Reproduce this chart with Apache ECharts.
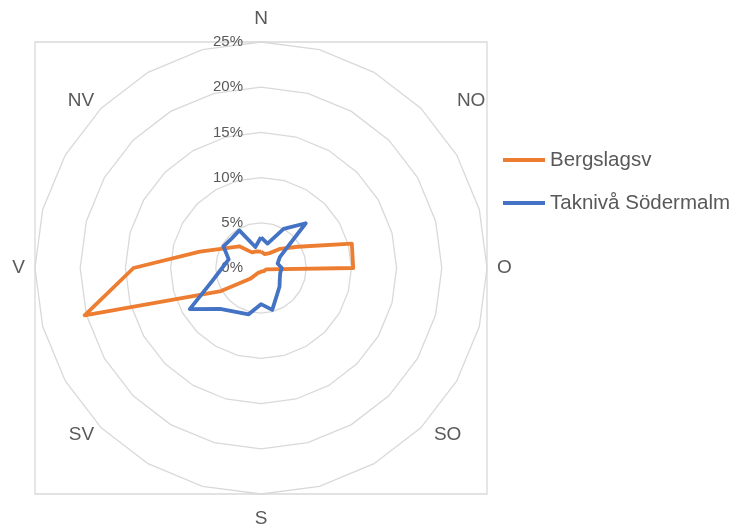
<!DOCTYPE html>
<html>
<head>
<meta charset="utf-8">
<script src="https://cdn.jsdelivr.net/npm/echarts@6/dist/echarts.min.js"></script>
<style>
  html, body { margin: 0; padding: 0; background: #fff; }
  #chart { width: 741px; height: 526px; }
</style>
</head>
<body>
<div id="chart"></div>
<script>
// Wind directions, clockwise from north in 15° steps (only the 8 main ones are labelled)
const directions = ['N', '', '', 'NO', '', '', 'O', '', '', 'SO', '', '', 'S', '', '', 'SV', '', '', 'V', '', '', 'NV', '', ''];

// Share of time per direction (%), clockwise from north
const bergslagsv = [1.8, 1.6, 1.9, 3.0, 4.7, 10.4, 10.2, 0.6, 0.5, 0.5, 0.4, 0.4,
                    0.4, 0.5, 0.6, 1.7, 5.1, 20.2, 14.1, 7.0, 4.4, 3.4, 2.0, 1.9];
const taknivaSodermalm = [3.4, 2.8, 5.0, 7.0, 2.4, 1.9, 2.3, 2.2, 2.4, 2.9, 3.5, 4.8,
                          4.0, 5.3, 5.6, 6.4, 9.1, 5.6, 4.3, 3.7, 4.8, 4.6, 4.8, 2.4];

const seriesNames = ['Bergslagsv', 'Taknivå Södermalm'];
const seriesColors = ['#ED7D31', '#4472C4'];

// Radial scale
const scaleMax = 25;
const scaleStep = 5;

// ECharts radar runs counter-clockwise; keep north first and reverse the rest
function toRadarOrder(arr) {
  return [arr[0]].concat(arr.slice(1).reverse());
}

const FONT = 'Liberation Sans';
const TEXT = '#595959';
const GRID_LINE = '#D9D9D9';
const CX = 261, CY = 268, R = 226;
const NAME_SIZE = 19;

// Small per-label nudges for the compass names
const nameStyles = {
  N:  { padding: [0, 0, 4, 0] },
  S:  { padding: [5, 0, 0, 0] },
  NO: { padding: [0, 0, 0, 29] },
  SO: { padding: [0, 0, 0, 6] }
};
const richNames = {};
Object.keys(nameStyles).forEach(k => {
  richNames[k] = Object.assign({ color: TEXT, fontSize: NAME_SIZE, fontFamily: FONT }, nameStyles[k]);
});

const chart = echarts.init(document.getElementById('chart'), null, { renderer: 'canvas' });

chart.setOption({
  animation: false,
  backgroundColor: '#fff',
  textStyle: { fontFamily: FONT },
  grid: {
    left: CX - R, top: CY - R, width: 2 * R, height: 2 * R,
    show: true, borderColor: GRID_LINE, borderWidth: 1.3, backgroundColor: 'transparent'
  },
  xAxis: { type: 'value', show: false, min: 0, max: 1 },
  yAxis: { type: 'value', show: false, min: 0, max: 1 },
  legend: {
    orient: 'vertical',
    left: 498, top: 143,
    itemWidth: 42, itemHeight: 4, itemGap: 19,
    icon: 'rect',
    data: seriesNames,
    textStyle: { color: TEXT, fontSize: 20.5, fontFamily: FONT, lineHeight: 24 }
  },
  radar: {
    center: [CX, CY],
    radius: R,
    shape: 'polygon',
    splitNumber: scaleMax / scaleStep,
    startAngle: 90,
    indicator: toRadarOrder(directions).map(name => ({ name: name, min: 0, max: scaleMax })),
    axisName: {
      color: TEXT, fontSize: NAME_SIZE, fontFamily: FONT,
      formatter: function (name) { return richNames[name] ? '{' + name + '|' + name + '}' : name; },
      rich: richNames
    },
    nameGap: 10,
    axisLine: { show: false },
    axisTick: { show: false },
    axisLabel: { show: false },
    splitLine: { lineStyle: { color: GRID_LINE, width: 1.3 } },
    splitArea: { show: false }
  },
  // Polar overlay only carries the percentage labels on the north spoke
  polar: { center: [CX, CY], radius: R },
  angleAxis: { type: 'value', show: false, startAngle: 90 },
  radiusAxis: {
    type: 'value', min: 0, max: scaleMax, interval: scaleStep,
    axisLine: { show: false }, axisTick: { show: false }, splitLine: { show: false },
    axisLabel: { color: TEXT, fontSize: 15, fontFamily: FONT, margin: 18, formatter: '{value}%' }
  },
  series: [
    {
      name: seriesNames[0], type: 'radar', symbol: 'none',
      lineStyle: { color: seriesColors[0], width: 3.8 },
      itemStyle: { color: seriesColors[0] },
      data: [{ value: toRadarOrder(bergslagsv), name: seriesNames[0] }]
    },
    {
      name: seriesNames[1], type: 'radar', symbol: 'none',
      lineStyle: { color: seriesColors[1], width: 3.8 },
      itemStyle: { color: seriesColors[1] },
      data: [{ value: toRadarOrder(taknivaSodermalm), name: seriesNames[1] }]
    }
  ]
});
</script>
</body>
</html>
